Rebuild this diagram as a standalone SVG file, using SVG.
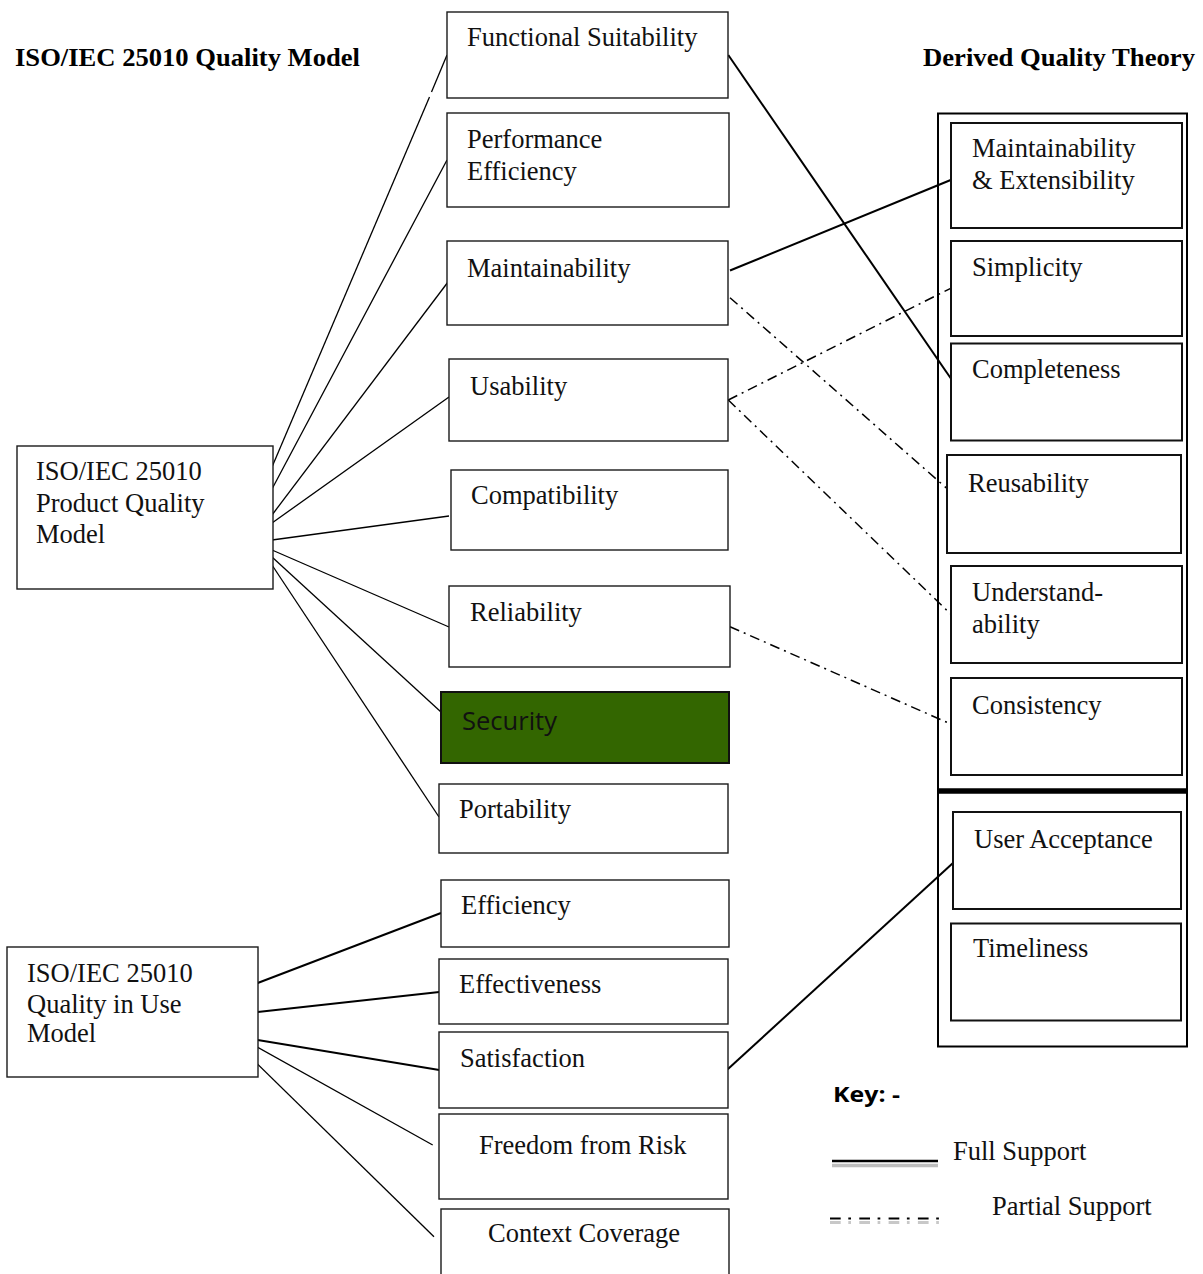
<svg xmlns="http://www.w3.org/2000/svg" width="1203" height="1274" viewBox="0 0 1203 1274">
  <style>
    .bg { fill: #ffffff; }
    .box { fill: #ffffff; stroke: #1a1a1a; stroke-width: 1.4; }
    .dbox { fill: #ffffff; stroke: #111111; stroke-width: 2; }
    .sec { fill: #336600; stroke: #111111; stroke-width: 2; }
    .frame { fill: none; stroke: #000000; stroke-width: 2; }
    .t { font-family: "Liberation Serif", "Times New Roman", serif; font-size: 26.5px; fill: #111111; }
    .h { font-family: "Liberation Serif", "Times New Roman", serif; font-size: 25px; font-weight: bold; fill: #000000; }
    .s { font-family: "Open Sans", "Liberation Sans", sans-serif; font-size: 25px; fill: #111111; }
    .k { font-family: "Open Sans", "Liberation Sans", sans-serif; font-size: 22px; font-weight: bold; fill: #000000; }
    .fan { stroke: #000000; stroke-width: 1.3; fill: none; }
    .full { stroke: #000000; stroke-width: 2; fill: none; }
    .part { stroke: #000000; stroke-width: 1.5; fill: none; stroke-dasharray: 10 5 2 5; }
  </style>

  <rect class="bg" x="0" y="0" width="1203" height="1274"/>

  <!-- headings -->
  <text class="h" x="15" y="66" textLength="345" lengthAdjust="spacingAndGlyphs">ISO/IEC 25010 Quality Model</text>
  <text class="h" x="923" y="66" textLength="272" lengthAdjust="spacingAndGlyphs">Derived Quality Theory</text>

  <!-- connectors -->
  <g id="connectors">
    <!-- product quality model fan -->
    <path class="fan" d="M447,55 L431.5,92"/>
    <path class="fan" d="M429.5,97 L272,467"/>
    <path class="fan" d="M447,160 L272,489"/>
    <path class="fan" d="M448,282 L272,515"/>
    <path class="fan" d="M449,397 L272,523"/>
    <path class="fan" d="M449,516 L272,540"/>
    <path class="fan" d="M449,627 L272,550"/>
    <path class="fan" d="M441,712 L272,557"/>
    <path class="fan" d="M439,817 L272,565"/>

    <!-- quality in use model fan -->
    <path class="full" d="M257.7,983 L441,913"/>
    <path class="full" d="M257.7,1012 L439.3,992"/>
    <path class="full" d="M257.7,1040 L439.3,1070"/>
    <path class="fan" d="M250.7,1043.3 L432.7,1145"/>
    <path class="fan" d="M253.3,1060 L434,1236.7"/>

    <!-- full support links -->
    <path class="full" d="M728.3,55 L950.7,378.3"/>
    <path class="full" d="M730,270.5 L950.7,180"/>
    <path class="full" d="M727.7,1069.3 L952.7,863.3"/>

    <!-- partial support links -->
    <path class="part" d="M730,297.7 L946.7,488.3"/>
    <path class="part" d="M728.3,400 L950.7,288.3"/>
    <path class="part" d="M728.3,400 L950.7,614"/>
    <path class="part" d="M730,626.7 L950.7,724"/>
  </g>

  <!-- ISO/IEC 25010 product characteristics -->
  <g id="functional-suitability">
    <rect class="box" x="447" y="12" width="281" height="86"/>
    <text class="t" x="467" y="46">Functional Suitability</text>
  </g>
  <g id="performance-efficiency">
    <rect class="box" x="447" y="113" width="282" height="94"/>
    <text class="t" x="467" y="148">Performance</text>
    <text class="t" x="467" y="180">Efficiency</text>
  </g>
  <g id="maintainability">
    <rect class="box" x="447" y="241" width="281" height="84"/>
    <text class="t" x="467" y="277">Maintainability</text>
  </g>
  <g id="usability">
    <rect class="box" x="449" y="359" width="279" height="82"/>
    <text class="t" x="470" y="395">Usability</text>
  </g>
  <g id="compatibility">
    <rect class="box" x="451" y="470" width="277" height="80"/>
    <text class="t" x="471" y="504">Compatibility</text>
  </g>
  <g id="reliability">
    <rect class="box" x="449" y="586" width="281" height="81"/>
    <text class="t" x="470" y="621">Reliability</text>
  </g>
  <g id="security">
    <rect class="sec" x="441" y="692" width="288" height="71"/>
    <text class="s" x="462" y="730" textLength="95" lengthAdjust="spacingAndGlyphs">Security</text>
  </g>
  <g id="portability">
    <rect class="box" x="439" y="784" width="289" height="69"/>
    <text class="t" x="459" y="818">Portability</text>
  </g>

  <!-- ISO/IEC 25010 quality in use characteristics -->
  <g id="efficiency">
    <rect class="box" x="441" y="880" width="288" height="67"/>
    <text class="t" x="461" y="914">Efficiency</text>
  </g>
  <g id="effectiveness">
    <rect class="box" x="439" y="959" width="289" height="65"/>
    <text class="t" x="459" y="993">Effectiveness</text>
  </g>
  <g id="satisfaction">
    <rect class="box" x="439" y="1032" width="289" height="76"/>
    <text class="t" x="460" y="1067">Satisfaction</text>
  </g>
  <g id="freedom-from-risk">
    <rect class="box" x="439" y="1114" width="289" height="85"/>
    <text class="t" x="479" y="1154">Freedom from Risk</text>
  </g>
  <g id="context-coverage">
    <rect class="box" x="441" y="1209" width="288" height="80"/>
    <text class="t" x="488" y="1242">Context Coverage</text>
  </g>

  <!-- model roots -->
  <g id="product-quality-model">
    <rect class="box" x="17" y="446" width="256" height="143"/>
    <text class="t" x="36" y="480">ISO/IEC 25010</text>
    <text class="t" x="36" y="512">Product Quality</text>
    <text class="t" x="36" y="543">Model</text>
  </g>
  <g id="quality-in-use-model">
    <rect class="box" x="7" y="947" width="251" height="130"/>
    <text class="t" x="27" y="982">ISO/IEC 25010</text>
    <text class="t" x="27" y="1013">Quality in Use</text>
    <text class="t" x="27" y="1042">Model</text>
  </g>

  <!-- derived quality theory column -->
  <g id="derived-theory">
    <rect class="frame" x="938" y="113.5" width="249" height="933"/>
    <line x1="937" y1="791" x2="1188" y2="791" stroke="#000000" stroke-width="5.5"/>
  </g>
  <g id="maintainability-extensibility">
    <rect class="dbox" x="951" y="123" width="231" height="105"/>
    <text class="t" x="972" y="157">Maintainability</text>
    <text class="t" x="972" y="189">&amp; Extensibility</text>
  </g>
  <g id="simplicity">
    <rect class="dbox" x="951" y="241" width="231" height="95"/>
    <text class="t" x="972" y="276">Simplicity</text>
  </g>
  <g id="completeness">
    <rect class="dbox" x="951" y="343.5" width="231" height="97"/>
    <text class="t" x="972" y="378">Completeness</text>
  </g>
  <g id="reusability">
    <rect class="dbox" x="947" y="455" width="234" height="98"/>
    <text class="t" x="968" y="492">Reusability</text>
  </g>
  <g id="understandability">
    <rect class="dbox" x="951" y="566" width="231" height="97"/>
    <text class="t" x="972" y="601">Understand-</text>
    <text class="t" x="972" y="633">ability</text>
  </g>
  <g id="consistency">
    <rect class="dbox" x="951" y="678" width="231" height="97"/>
    <text class="t" x="972" y="714">Consistency</text>
  </g>
  <g id="user-acceptance">
    <rect class="dbox" x="953" y="812" width="228" height="97"/>
    <text class="t" x="974" y="848">User Acceptance</text>
  </g>
  <g id="timeliness">
    <rect class="dbox" x="951" y="923.5" width="230" height="97"/>
    <text class="t" x="973" y="957">Timeliness</text>
  </g>

  <!-- key -->
  <g id="key">
    <text class="k" x="833" y="1102" textLength="67" lengthAdjust="spacingAndGlyphs">Key: -</text>
    <line x1="832" y1="1165.5" x2="938" y2="1165.5" stroke="#bdbdbd" stroke-width="3.5"/>
    <line x1="832" y1="1161" x2="938" y2="1161" stroke="#000000" stroke-width="2.5"/>
    <text class="t" x="953" y="1160">Full Support</text>
    <line x1="830" y1="1222.5" x2="940" y2="1222.5" stroke="#c8c8c8" stroke-width="3" stroke-dasharray="10.7 7.6 2.7 8.3"/>
    <line x1="830" y1="1218.5" x2="940" y2="1218.5" stroke="#000000" stroke-width="2" stroke-dasharray="10.7 7.6 2.7 8.3"/>
    <text class="t" x="992" y="1215">Partial Support</text>
  </g>
</svg>
